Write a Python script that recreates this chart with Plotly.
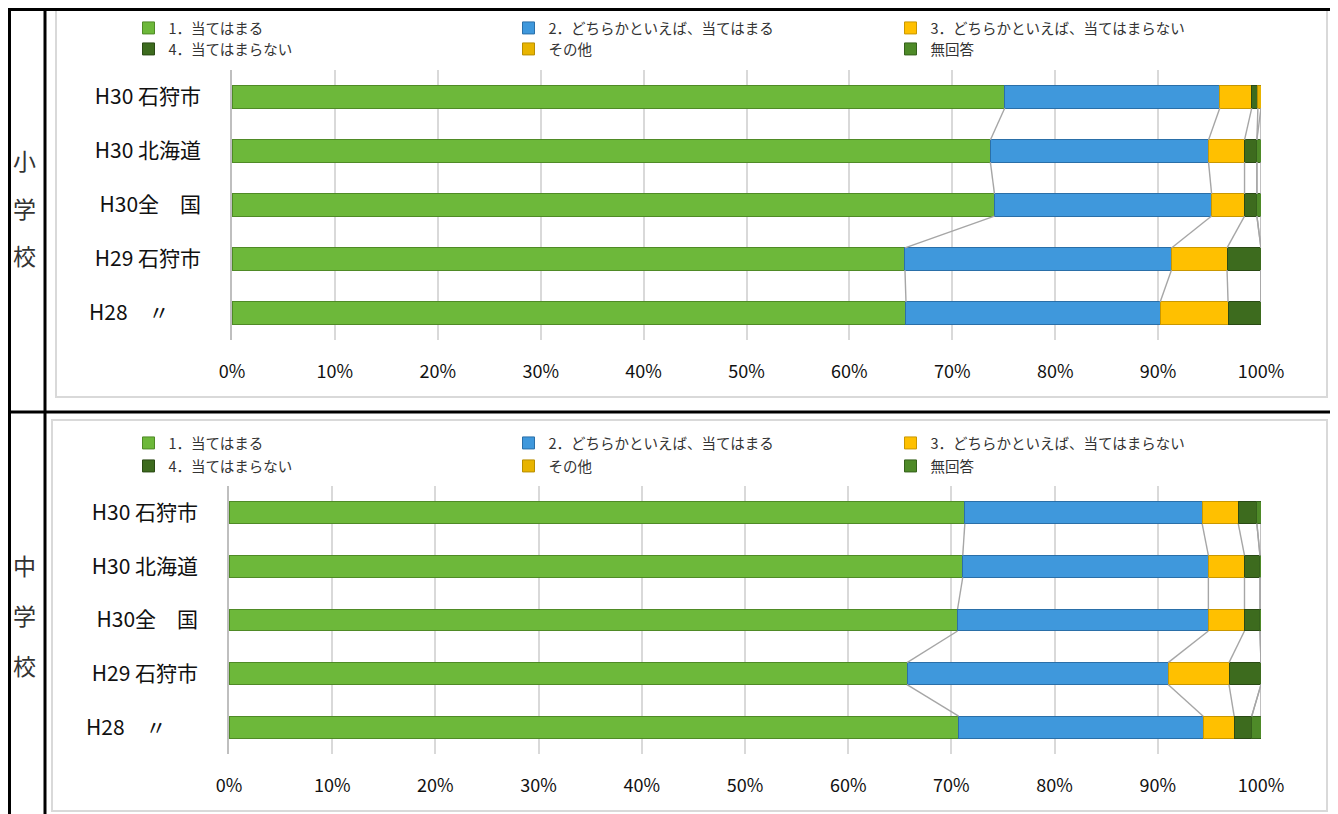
import plotly.graph_objects as go

W, H = 1338, 814
OFF = 8  # page body margin of the browser

categories = ["H30 石狩市", "H30 北海道", "H30全　国", "H29 石狩市", "H28　〃　\u2002"]
series_names = ["1．当てはまる", "2．どちらかといえば、当てはまる", "3．どちらかといえば、当てはまらない",
                "4．当てはまらない", "その他", "無回答"]
series_colors = ["#6DB83A", "#3F98DC", "#FFC000", "#3D6B1E", "#E8B400", "#4E8A28"]
line_colors = ["#4F8A26", "#2A6FA8", "#C99700", "#2A4A14", "#B88E00", "#35611B"]

# 小学校 (elementary)
elem_1 = [75.1, 73.7, 74.1, 65.4, 65.5]
elem_2 = [20.9, 21.2, 21.1, 25.9, 24.7]
elem_3 = [3.1, 3.5, 3.2, 5.4, 6.6]
elem_4 = [0.6, 1.2, 1.2, 3.3, 3.2]
elem_other = [0.3, 0.0, 0.0, 0.0, 0.0]
elem_noans = [0.0, 0.4, 0.4, 0.0, 0.0]

# 中学校 (junior high)
jr_1 = [71.3, 71.1, 70.6, 65.7, 70.7]
jr_2 = [23.0, 23.8, 24.3, 25.3, 23.7]
jr_3 = [3.5, 3.5, 3.5, 5.9, 3.0]
jr_4 = [1.8, 1.5, 1.5, 3.1, 1.7]
jr_other = [0.0, 0.0, 0.0, 0.0, 0.0]
jr_noans = [0.4, 0.1, 0.1, 0.0, 0.9]

x_ticks = [0, 10, 20, 30, 40, 50, 60, 70, 80, 90, 100]
x_ticktext = ["0%", "10%", "20%", "30%", "40%", "50%", "60%", "70%", "80%", "90%", "100%"]

FONT = "Noto Sans CJK JP"
BAR_W = 0.41


def fx(p):
    return max(p - OFF, 1.5) / W


def fy(p):
    return 1 - max(p - OFF, 1.5) / H


fig = go.Figure()

# legend placement: column x of marker centre, row y centres per panel
col_cx = [147.5, 527.5, 909.5]
row_cy = [[27, 48], [442, 465]]
legend_layouts = {}
legend_style = dict(orientation="v", xanchor="left", yanchor="top", itemwidth=30,
                    font=dict(family=FONT, size=14.5, color="#333333"), bgcolor="rgba(0,0,0,0)",
                    borderwidth=0, traceorder="normal")

panels = [
    ("x", "y", [elem_1, elem_2, elem_3, elem_4, elem_other, elem_noans]),
    ("x2", "y2", [jr_1, jr_2, jr_3, jr_4, jr_other, jr_noans]),
]
ypos = list(range(len(categories)))

lg_counter = 0
for p, (xa, ya, data) in enumerate(panels):
    cum = []
    for i in range(len(categories)):
        c, s = [], 0.0
        for ser in data:
            s += ser[i]
            c.append(s)
        cum.append(c)
    lx, ly = [], []
    for i in range(len(categories) - 1):
        for k in range(len(data)):
            lx += [cum[i][k], cum[i + 1][k], None]
            ly += [ypos[i] + BAR_W / 2, ypos[i + 1] - BAR_W / 2, None]
    fig.add_trace(go.Scatter(x=lx, y=ly, mode="lines", line=dict(color="#A6A6A6", width=1.4),
                             xaxis=xa, yaxis=ya, showlegend=False, hoverinfo="skip"))
    for k, ser in enumerate(data):
        lg_counter += 1
        lg_name = "legend" if lg_counter == 1 else f"legend{lg_counter}"
        col, row = k % 3, k // 3
        legend_layouts[lg_name] = dict(x=fx(col_cx[col] - 19), y=fy(row_cy[p][row] - 15), **legend_style)
        fig.add_trace(go.Bar(
            x=ser, y=ypos, orientation="h", name=series_names[k], width=BAR_W,
            marker=dict(color=series_colors[k], line=dict(color=line_colors[k], width=1)),
            xaxis=xa, yaxis=ya, legend=lg_name,
        ))

xcommon = dict(range=[0, 100], tickvals=x_ticks, ticktext=x_ticktext, showgrid=True,
               gridcolor="#D9D9D9", gridwidth=1.5, zeroline=False, showline=False,
               ticks="outside", ticklen=0, ticklabelstandoff=15, automargin=False,
               tickfont=dict(family=FONT, size=18, color="#111111"), fixedrange=True)
ycommon = dict(tickvals=ypos, ticktext=categories, range=[4.5, -0.5], showgrid=False,
               zeroline=False, showline=True, linecolor="#BFBFBF", linewidth=1.5,
               ticks="", ticklabelstandoff=25, automargin=False,
               tickfont=dict(family=FONT, size=21, color="#111111"), fixedrange=True)

fig.update_layout(
    template="none",
    width=W, height=H, margin=dict(l=0, r=0, t=0, b=0, autoexpand=False),
    paper_bgcolor="white", plot_bgcolor="white",
    barmode="stack", showlegend=True,
    font=dict(family=FONT),
    xaxis=dict(domain=[fx(232), fx(1261)], anchor="y", **xcommon),
    yaxis=dict(domain=[fy(340), fy(70)], anchor="x", **ycommon),
    xaxis2=dict(domain=[fx(229), fx(1261)], anchor="y2", **xcommon),
    yaxis2=dict(domain=[fy(754), fy(486)], anchor="x2", **ycommon),
    **legend_layouts,
)

shapes = []
shapes.append(dict(type="rect", xref="paper", yref="paper", x0=fx(56), x1=fx(1327),
                   y0=fy(397), y1=fy(6), line=dict(color="#D9D9D9", width=2), layer="below"))
shapes.append(dict(type="rect", xref="paper", yref="paper", x0=fx(52), x1=fx(1327),
                   y0=fy(811), y1=fy(420), line=dict(color="#D9D9D9", width=2), layer="below"))
for xx in [3, 45]:
    shapes.append(dict(type="line", xref="paper", yref="paper", x0=fx(xx), x1=fx(xx),
                       y0=0, y1=1, line=dict(color="black", width=3)))
for yy in [2, 412]:
    shapes.append(dict(type="line", xref="paper", yref="paper", x0=0, x1=1,
                       y0=fy(yy), y1=fy(yy), line=dict(color="black", width=3)))
fig.update_layout(shapes=shapes)

side_labels = [("小", 160), ("学", 208), ("校", 255), ("中", 565), ("学", 615), ("校", 665)]
for ch, yy in side_labels:
    fig.add_annotation(text=ch, x=fx(24), y=fy(yy), xref="paper", yref="paper",
                       showarrow=False, xanchor="center", yanchor="middle",
                       font=dict(family=FONT, size=23, color="#333333"))

fig.write_html("out.html")
